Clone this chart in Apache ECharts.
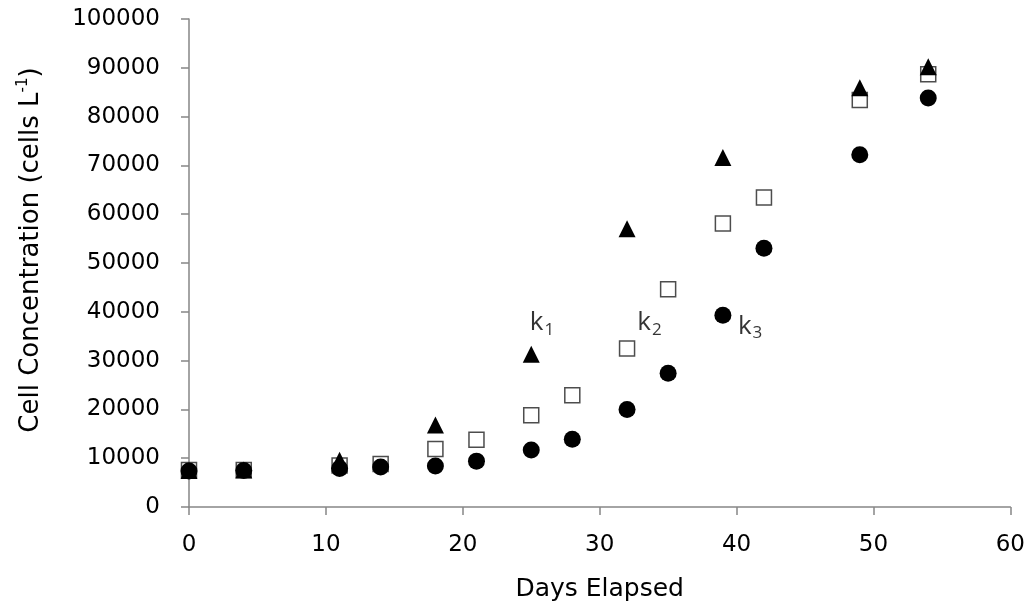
<!DOCTYPE html>
<html>
<head>
<meta charset="utf-8">
<script src="https://cdn.jsdelivr.net/npm/echarts@6/dist/echarts.min.js"></script>
<style>
  html, body { margin: 0; padding: 0; background: #fff; }
  #main { width: 1028px; height: 607px; }
</style>
</head>
<body>
<div id="main"></div>
<script>
// days and cell concentrations (cells per litre)
var daysK1 = [0, 4, 11, 18, 25, 32, 39, 49, 54];
var cellsK1 = [7500, 7600, 9600, 16800, 31300, 57000, 71600, 85900, 90200];

var daysK2 = [0, 4, 11, 14, 18, 21, 25, 28, 32, 35, 39, 42, 49, 54];
var cellsK2 = [7600, 7600, 8500, 8800, 11900, 13800, 18800, 22900, 32500, 44600, 58100, 63400, 83400, 88700];

var daysK3 = [0, 4, 11, 14, 18, 21, 25, 28, 32, 35, 39, 42, 49, 54];
var cellsK3 = [7400, 7500, 7900, 8200, 8400, 9400, 11700, 13900, 20000, 27400, 39300, 53000, 72200, 83800];

// rate constant annotations
var noteNames = ['1', '2', '3'];
var noteDays = [24.9, 32.75, 40.1];
var noteCells = [37700, 37700, 37000];

var xTicks = [0, 10, 20, 30, 40, 50, 60];
var yTicks = [0, 10000, 20000, 30000, 40000, 50000, 60000, 70000, 80000, 90000, 100000];

function pairs(xs, ys) {
	var res = [];
	for (var i = 0; i < xs.length; i++) {
		res.push([xs[i], ys[i]]);
	}
	return res;
}

var notes = [];
for (var i = 0; i < noteNames.length; i++) {
	notes.push({ name: noteNames[i], value: [noteDays[i], noteCells[i]] });
}

var font = '"DejaVu Sans", sans-serif';
var noteFont = '"Open Sans", sans-serif';
var axisGray = '#868686';

var chart = echarts.init(document.getElementById('main'));
chart.setOption({
	animation: false,
	backgroundColor: '#fff',
	grid: { left: 189, right: 11, top: 19, bottom: 99 },
	xAxis: {
		type: 'value',
		min: xTicks[0],
		max: xTicks[xTicks.length - 1],
		interval: 10,
		name: 'Days Elapsed',
		nameLocation: 'middle',
		nameGap: 70,
		nameTextStyle: { fontFamily: font, fontSize: 25, color: '#000' },
		splitLine: { show: false },
		axisLine: { lineStyle: { color: axisGray, width: 1.5 } },
		axisTick: { show: true, length: 8, lineStyle: { color: axisGray, width: 1.5 } },
		axisLabel: {
			fontFamily: font, fontSize: 23, color: '#000', margin: 27,
			formatter: function (v) { return String(v); }
		}
	},
	yAxis: {
		type: 'value',
		min: yTicks[0],
		max: yTicks[yTicks.length - 1],
		interval: 10000,
		name: 'Cell Concentration (cells L{sup|-1})',
		nameLocation: 'middle',
		nameRotate: 90,
		nameGap: 143,
		nameTextStyle: {
			fontFamily: font, fontSize: 26, color: '#000',
			padding: [0, 0, 0, 26],
			rich: {
				sup: { fontFamily: font, fontSize: 15, color: '#000', padding: [0, 0, 15, 0] }
			}
		},
		splitLine: { show: false },
		axisLine: { show: true, lineStyle: { color: axisGray, width: 1.5 } },
		axisTick: { show: true, length: 8, lineStyle: { color: axisGray, width: 1.5 } },
		axisLabel: {
			fontFamily: font, fontSize: 23, color: '#000', margin: 29,
			formatter: function (v) { return String(v); }
		}
	},
	series: [{
		name: 'k2',
		type: 'scatter',
		data: pairs(daysK2, cellsK2),
		symbol: 'rect',
		symbolSize: 15,
		itemStyle: { color: '#fff', borderColor: '#4d4d4d', borderWidth: 1.5, opacity: 1 },
		z: 2
	}, {
		name: 'k1',
		type: 'scatter',
		data: pairs(daysK1, cellsK1),
		symbol: 'triangle',
		symbolSize: 17,
		itemStyle: { color: '#000', opacity: 1 },
		z: 3
	}, {
		name: 'k3',
		type: 'scatter',
		data: pairs(daysK3, cellsK3),
		symbol: 'circle',
		symbolSize: 17,
		itemStyle: { color: '#000', opacity: 1 },
		z: 4
	}, {
		name: 'notes',
		type: 'scatter',
		data: notes,
		symbolSize: 0,
		silent: true,
		z: 5,
		label: {
			show: true,
			position: 'inside',
			align: 'left',
			formatter: function (p) { return '{k|k}{s|' + p.name + '}'; },
			rich: {
				k: { fontFamily: noteFont, fontSize: 26, color: '#000' },
				s: { fontFamily: noteFont, fontSize: 17, color: '#000', padding: [14, 0, 0, 1] }
			}
		}
	}]
});
</script>
</body>
</html>
